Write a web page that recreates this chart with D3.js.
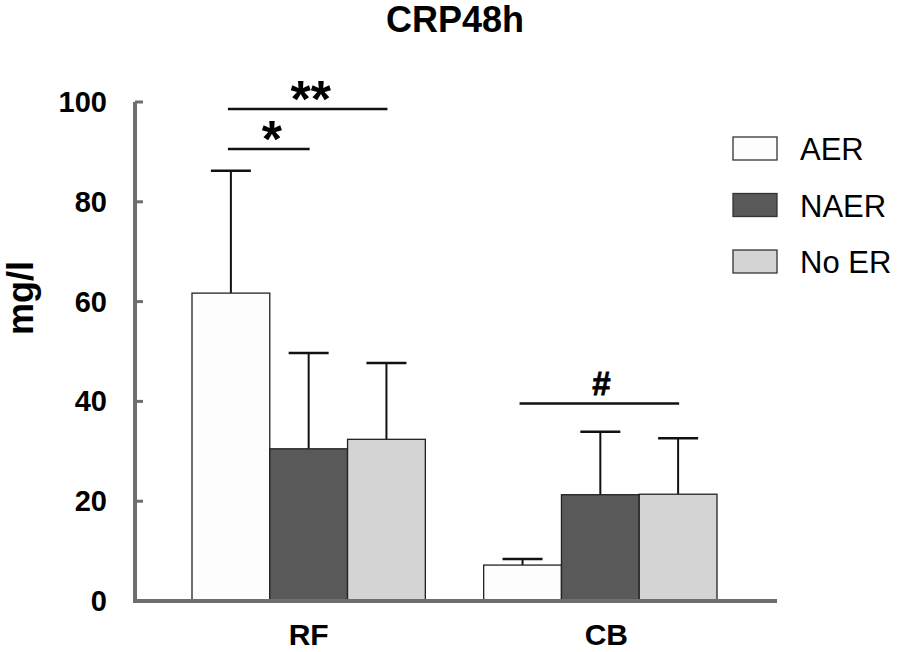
<!DOCTYPE html>
<html>
<head>
<meta charset="utf-8">
<script src="https://cdn.jsdelivr.net/npm/d3@7"></script>
<style>
  body { margin: 0; background: #fff; }
  text { font-family: "Liberation Sans", Arial, sans-serif; }
</style>
</head>
<body>
<svg id="chart" width="897" height="652"></svg>
<script>
// data
const groups = ["RF", "CB"]
const series = ["AER", "NAER", "No ER"]
const colors = ["#fdfdfd", "#595959", "#d4d4d4"]
const means = [
  [61.7, 30.5, 32.4],
  [7.2, 21.3, 21.4]
]
const errors = [
  [24.5, 19.2, 15.3],
  [1.2, 12.6, 11.2]
]
const yTicks = [0, 20, 40, 60, 80, 100]

// significance brackets: [group, fromSeries, toSeries, level, label]
const sigs = [
  ["RF", 0, 1, 90.6, "*"],
  ["RF", 0, 2, 98.6, "**"],
  ["CB", 0, 2, 39.6, "#"]
]

const svg = d3.select("#chart")

const y = d3.scaleLinear().domain([0, 100]).range([601, 102])

const x0 = d3.scaleBand().domain(groups).range([192, 717]).paddingInner(0.2).paddingOuter(0)
const x1 = d3.scaleBand().domain(series).range([0, x0.bandwidth()])

// title
svg.append("text")
  .attr("x", 455).attr("y", 32)
  .attr("text-anchor", "middle")
  .style("font-size", "36px").style("font-weight", "bold")
  .text("CRP48h")

// y axis label
svg.append("text")
  .attr("transform", "translate(33,298) rotate(-90)")
  .attr("text-anchor", "middle")
  .style("font-size", "36px").style("font-weight", "bold")
  .text("mg/l")

// bars
const g = svg.append("g")
groups.forEach((grp, gi) => {
  series.forEach((s, si) => {
    const bx = x0(grp) + x1(s)
    const cx = bx + x1.bandwidth() / 2
    const top = y(means[gi][si])
    const et = y(means[gi][si] + errors[gi][si])
    // error bar
    g.append("line")
      .attr("x1", cx).attr("x2", cx)
      .attr("y1", top).attr("y2", et)
      .attr("stroke", "#111").attr("stroke-width", 2)
    g.append("line")
      .attr("x1", cx - 20).attr("x2", cx + 20)
      .attr("y1", et).attr("y2", et)
      .attr("stroke", "#111").attr("stroke-width", 2.5)
    g.append("rect")
      .attr("x", bx).attr("y", top)
      .attr("width", x1.bandwidth())
      .attr("height", y(0) - top)
      .attr("fill", colors[si])
      .attr("stroke", "#222").attr("stroke-width", 1.3)
  })
})

// axes
const axisColor = "#6e6e6e"
svg.append("line")
  .attr("x1", 135).attr("x2", 135)
  .attr("y1", y(100)).attr("y2", y(0))
  .attr("stroke", axisColor).attr("stroke-width", 4)
svg.append("line")
  .attr("x1", 133).attr("x2", 777)
  .attr("y1", y(0)).attr("y2", y(0))
  .attr("stroke", axisColor).attr("stroke-width", 4)

yTicks.forEach(t => {
  svg.append("line")
    .attr("x1", 135).attr("x2", 143)
    .attr("y1", y(t)).attr("y2", y(t))
    .attr("stroke", axisColor).attr("stroke-width", 3)
  svg.append("text")
    .attr("x", 107).attr("y", y(t) + 10)
    .attr("text-anchor", "end")
    .style("font-size", "29px").style("font-weight", "bold")
    .text(t)
})

groups.forEach((grp, gi) => {
  svg.append("text")
    .attr("x", x0(grp) + x0.bandwidth() / 2 + gi * 6)
    .attr("y", 645)
    .attr("text-anchor", "middle")
    .style("font-size", "30px").style("font-weight", "bold")
    .text(grp)
})

// significance
sigs.forEach(([grp, a, b, lvl, lab]) => {
  const xa = x0(grp) + x1(series[a]) + x1.bandwidth() / 2 - 3
  const xb = x0(grp) + x1(series[b]) + x1.bandwidth() / 2 + 1
  const ly = y(lvl)
  svg.append("line")
    .attr("x1", xa).attr("x2", xb)
    .attr("y1", ly).attr("y2", ly)
    .attr("stroke", "#111").attr("stroke-width", 2.5)
  const isHash = lab === "#"
  svg.append("text")
    .attr("x", isHash ? (xa + xb) / 2 + 2 : (xa + xb) / 2 + 3)
    .attr("y", isHash ? ly - 8 : ly + 8)
    .attr("text-anchor", "middle")
    .style("font-size", isHash ? "33px" : "52px").style("font-weight", "bold")
    .style("stroke", isHash ? "#000" : "none").style("stroke-width", 0.8)
    .text(lab)
})

// legend
series.forEach((s, i) => {
  const ly = 137 + i * 56.5
  svg.append("rect")
    .attr("x", 733).attr("y", ly)
    .attr("width", 44).attr("height", 23)
    .attr("fill", colors[i])
    .attr("stroke", "#333").attr("stroke-width", 1.3)
  svg.append("text")
    .attr("x", 800).attr("y", ly + 23)
    .style("font-size", "31px")
    .text(s)
})
</script>
</body>
</html>
